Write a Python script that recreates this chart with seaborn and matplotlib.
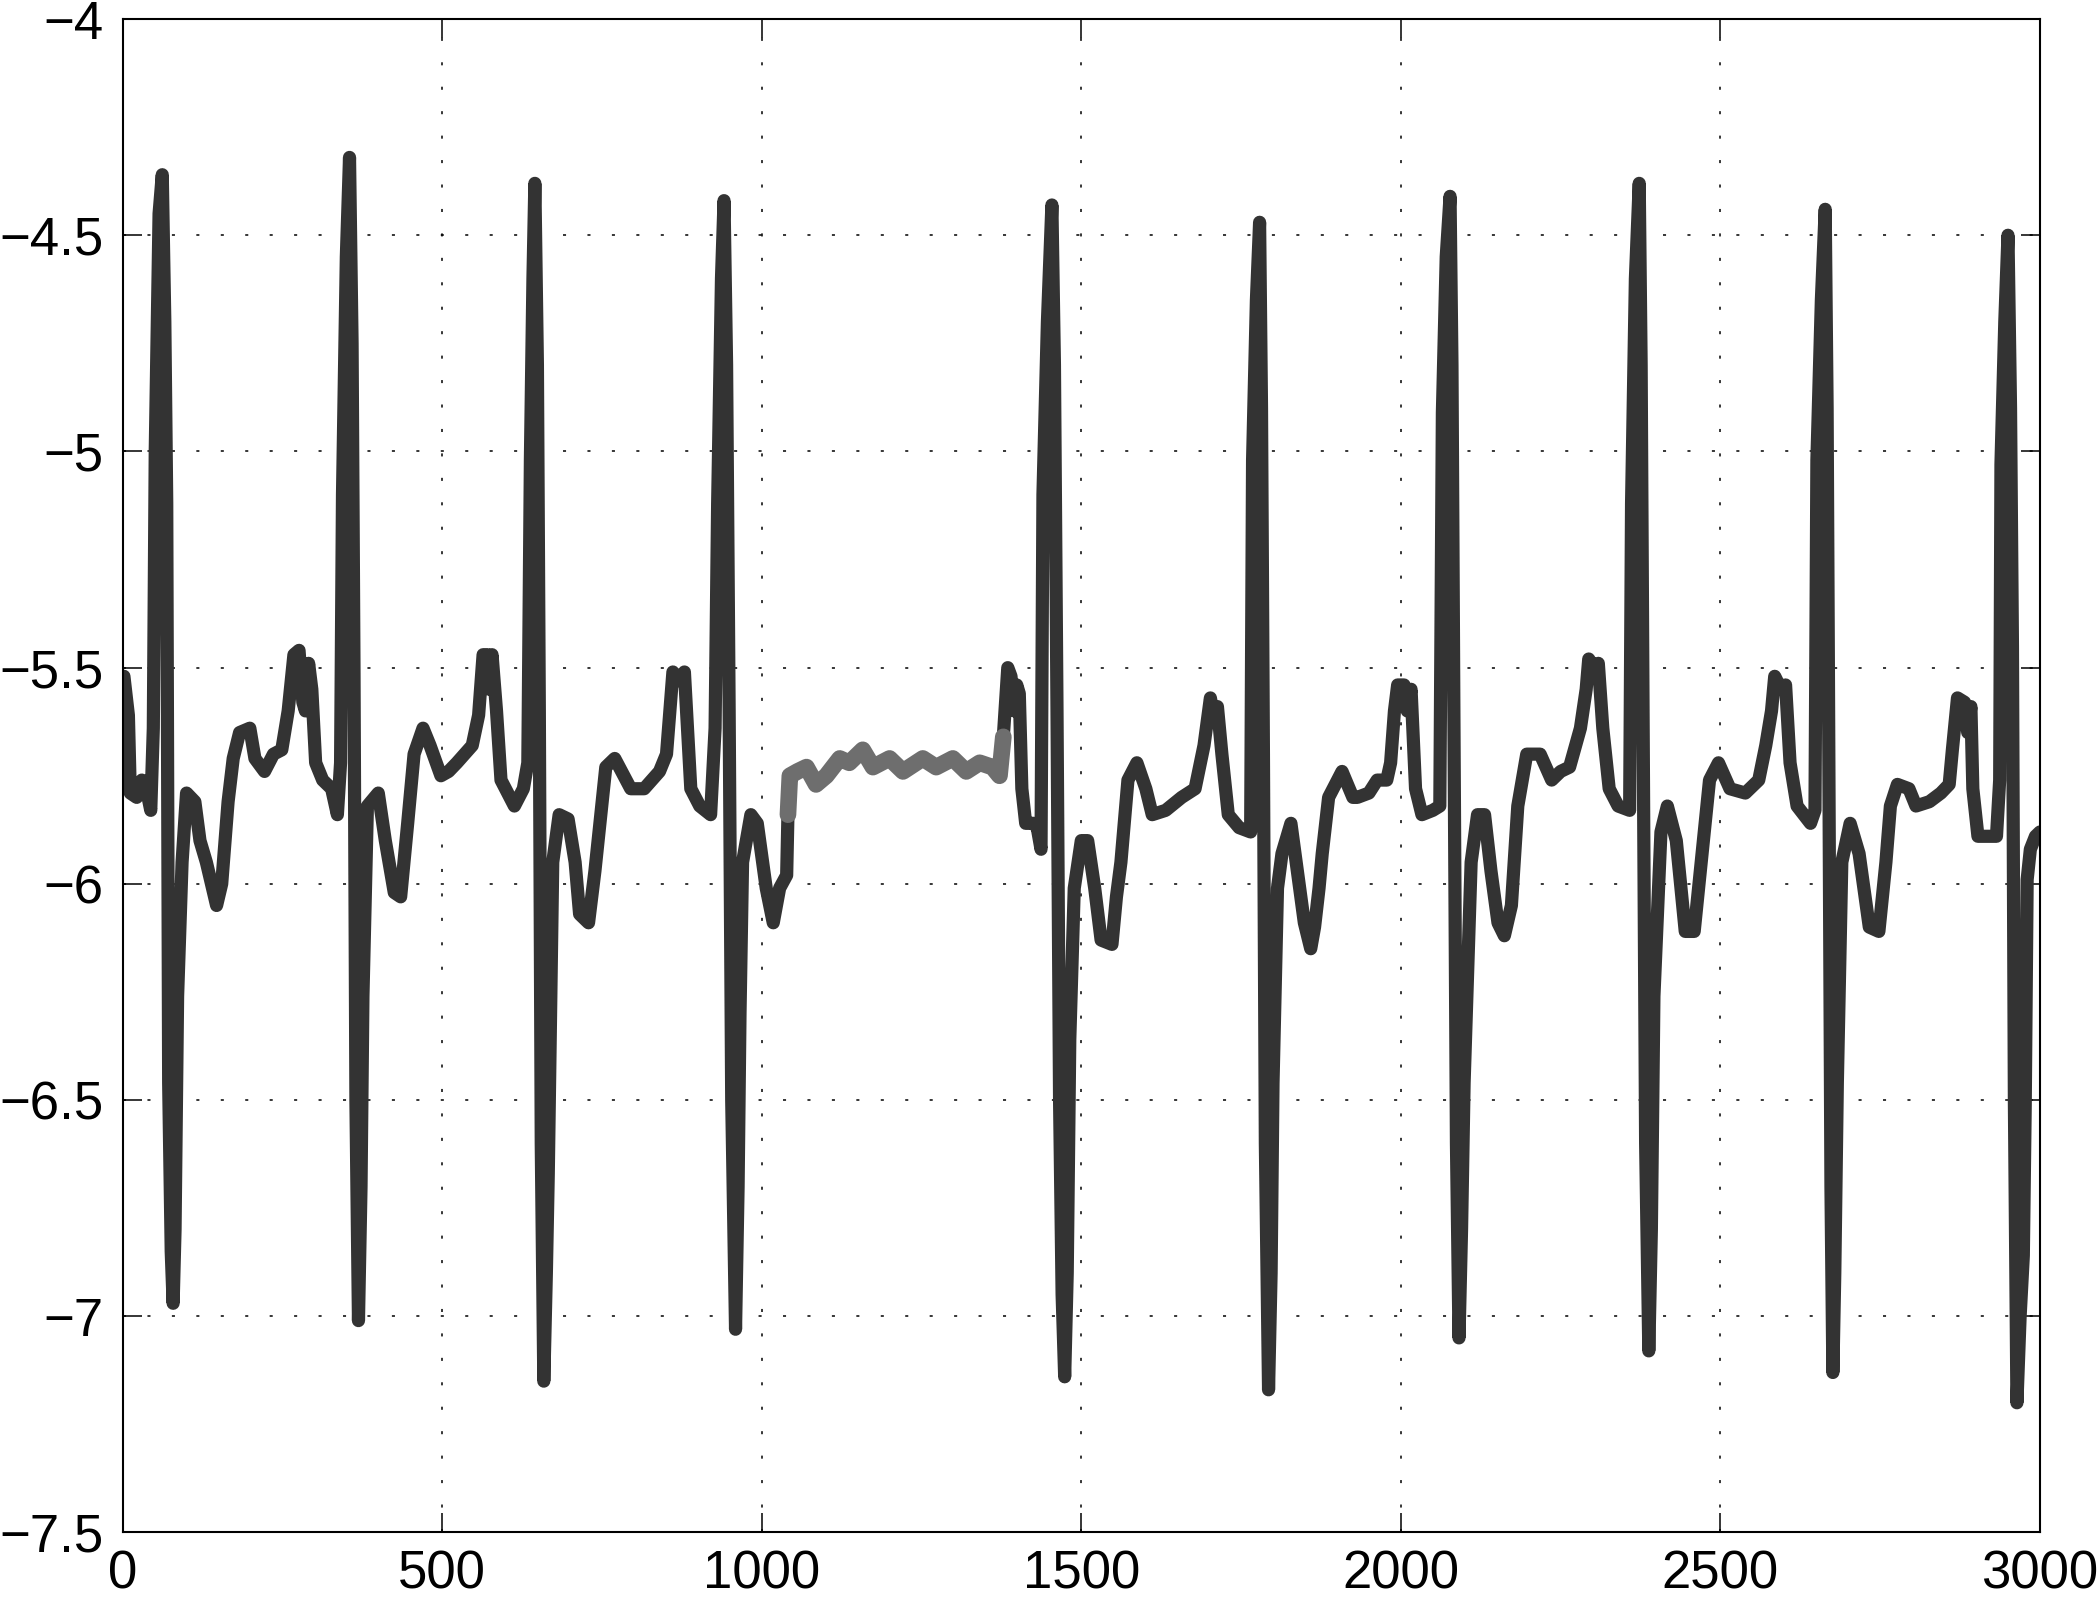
import pandas as pd
import seaborn as sns
import matplotlib.pyplot as plt

# signal before the highlighted stretch (x = sample index, y = amplitude)
pre_x = [2, 9, 12, 22, 30, 37, 44,
         48, 51, 57, 62, 66, 69, 72, 76, 79, 82, 86, 93, 100,
         113, 121, 131, 147, 155, 165, 173, 183, 199, 207, 222, 236, 249, 259, 268,
         276, 282, 286, 291, 296, 302, 313, 327, 336, 341,
         344, 350, 355, 359, 362, 365, 369, 373, 376, 383,
         400, 411, 425, 435, 446, 456, 470, 481, 498, 510, 523, 547, 557, 564, 571,
         574, 578, 585, 592, 606, 613, 627, 634,
         638, 642, 645, 649, 652, 655, 659, 663, 666, 673,
         683, 697, 708, 715, 729, 739, 756, 770, 795, 816, 840, 851, 861, 870, 879,
         889, 903, 920, 927,
         931, 937, 941, 945, 949, 953, 959, 963, 966, 970,
         983, 993, 1007, 1018, 1028, 1039, 1041]
pre_y = [-5.52, -5.61, -5.79, -5.80, -5.76, -5.78, -5.83,
         -5.64, -5.00, -4.45, -4.36, -4.70, -5.12, -6.46, -6.85, -6.97, -6.80, -6.26, -5.95, -5.79,
         -5.81, -5.90, -5.95, -6.05, -6.00, -5.81, -5.71, -5.65, -5.64, -5.71, -5.74, -5.70, -5.69, -5.60, -5.47,
         -5.46, -5.58, -5.60, -5.49, -5.55, -5.72, -5.76, -5.78, -5.84, -5.72,
         -5.10, -4.55, -4.32, -4.75, -5.50, -6.50, -7.01, -6.70, -6.26, -5.82,
         -5.79, -5.90, -6.02, -6.03, -5.86, -5.70, -5.64, -5.68, -5.75, -5.74, -5.72, -5.68, -5.61, -5.47, -5.47,
         -5.55, -5.47, -5.60, -5.76, -5.80, -5.82, -5.78, -5.72,
         -5.02, -4.60, -4.38, -4.80, -5.60, -6.60, -7.15, -6.90, -6.67, -5.95,
         -5.84, -5.85, -5.95, -6.07, -6.09, -5.97, -5.73, -5.71, -5.78, -5.78, -5.74, -5.70, -5.51, -5.53, -5.51,
         -5.78, -5.82, -5.84, -5.64,
         -5.12, -4.60, -4.42, -4.80, -5.60, -6.50, -7.03, -6.70, -6.30, -5.95,
         -5.84, -5.86, -6.01, -6.09, -6.01, -5.98, -5.84]

# highlighted (lighter) stretch
seg_x = [1041, 1044, 1056, 1070, 1085, 1101, 1122, 1137, 1158, 1174, 1200, 1221, 1252,
         1273, 1299, 1320, 1341, 1361, 1372, 1378]
seg_y = [-5.84, -5.75, -5.74, -5.73, -5.77, -5.75, -5.71, -5.72, -5.69, -5.73, -5.71, -5.74, -5.71,
         -5.73, -5.71, -5.74, -5.72, -5.73, -5.75, -5.66]

# signal after the highlighted stretch
post_x = [1385, 1390, 1395, 1399, 1403, 1407, 1413, 1425, 1431, 1437,
          1440, 1447, 1454, 1458, 1462, 1466, 1470, 1474, 1478, 1482, 1489,
          1500, 1510, 1521, 1531, 1548, 1555, 1562, 1573, 1587, 1601, 1611, 1632, 1657, 1678,
          1692, 1702, 1708, 1713, 1720, 1730, 1747, 1765,
          1768, 1774, 1779, 1782, 1785, 1788, 1793, 1797, 1800, 1807,
          1814, 1828, 1838, 1849, 1859, 1865, 1872, 1877, 1887, 1908, 1925, 1932, 1950, 1963,
          1978, 1984, 1990, 1995, 2005, 2010, 2016, 2023, 2033, 2050, 2061,
          2065, 2071, 2077, 2080, 2083, 2087, 2091, 2095, 2099, 2110,
          2120, 2131, 2141, 2152, 2162, 2173, 2183, 2197, 2218, 2236, 2250, 2264, 2281, 2290,
          2294, 2302, 2309, 2316, 2326, 2340, 2358,
          2361, 2367, 2373, 2376, 2379, 2383, 2388, 2392, 2396, 2407,
          2417, 2431, 2445, 2459, 2470, 2483, 2497, 2515, 2539, 2560, 2571, 2580, 2585, 2595,
          2602, 2609, 2620, 2641, 2648,
          2651, 2658, 2664, 2667, 2670, 2673, 2676, 2679, 2683, 2690,
          2703, 2717, 2733, 2748, 2759, 2766, 2777, 2795, 2806, 2827, 2845, 2858, 2863, 2871,
          2882, 2887, 2892, 2895, 2903, 2932, 2937,
          2939, 2945, 2950, 2954, 2957, 2960, 2964, 2969, 2974, 2977, 2980, 2985, 2993, 3000]
post_y = [-5.50, -5.52, -5.60, -5.54, -5.56, -5.78, -5.86, -5.86, -5.87, -5.92,
          -5.10, -4.70, -4.43, -4.80, -5.60, -6.50, -6.95, -7.14, -6.90, -6.36, -6.01,
          -5.90, -5.90, -6.01, -6.13, -6.14, -6.03, -5.95, -5.76, -5.72, -5.78, -5.84, -5.83, -5.80, -5.78,
          -5.68, -5.57, -5.62, -5.59, -5.70, -5.84, -5.87, -5.88,
          -5.02, -4.65, -4.47, -4.90, -5.70, -6.60, -7.17, -6.90, -6.46, -6.01,
          -5.93, -5.86, -5.97, -6.09, -6.15, -6.10, -6.01, -5.93, -5.80, -5.74, -5.80, -5.80, -5.79, -5.76,
          -5.76, -5.72, -5.60, -5.54, -5.54, -5.60, -5.55, -5.78, -5.84, -5.83, -5.82,
          -4.91, -4.55, -4.41, -4.80, -5.60, -6.60, -7.05, -6.80, -6.46, -5.95,
          -5.84, -5.84, -5.97, -6.09, -6.12, -6.05, -5.82, -5.70, -5.70, -5.76, -5.74, -5.73, -5.64, -5.55,
          -5.48, -5.50, -5.49, -5.64, -5.78, -5.82, -5.83,
          -5.12, -4.60, -4.38, -4.80, -5.60, -6.60, -7.08, -6.80, -6.26, -5.88,
          -5.82, -5.90, -6.11, -6.11, -5.95, -5.76, -5.72, -5.78, -5.79, -5.76, -5.68, -5.60, -5.52, -5.55,
          -5.54, -5.72, -5.82, -5.86, -5.83,
          -5.02, -4.65, -4.44, -4.90, -5.80, -6.70, -7.13, -6.90, -6.46, -5.95,
          -5.86, -5.93, -6.10, -6.11, -5.95, -5.82, -5.77, -5.78, -5.82, -5.81, -5.79, -5.77, -5.69, -5.57,
          -5.58, -5.65, -5.59, -5.78, -5.89, -5.89, -5.76,
          -5.03, -4.70, -4.50, -4.90, -5.45, -6.50, -7.20, -7.00, -6.86, -6.51, -5.99, -5.92, -5.89, -5.88]

xticks = [0, 500, 1000, 1500, 2000, 2500, 3000]
xtick_labels = ['0', '500', '1000', '1500', '2000', '2500', '3000']
yticks = [-7.5, -7, -6.5, -6, -5.5, -5, -4.5, -4]
ytick_labels = ['\u22127.5', '\u22127', '\u22126.5', '\u22126', '\u22125.5', '\u22125', '\u22124.5', '\u22124']

sns.set_style('ticks')
plt.rcParams['font.family'] = ['Liberation Sans', 'DejaVu Sans']

dark = pd.DataFrame({'x': pre_x + seg_x + post_x, 'y': pre_y + seg_y + post_y})
light = pd.DataFrame({'x': seg_x, 'y': seg_y})

fig = plt.figure(figsize=(21, 16), dpi=100)
ax = fig.add_axes([0.0584, 0.0422, 0.913, 0.9459])

sns.lineplot(data=dark, x='x', y='y', estimator=None, sort=False,
             color='#333333', linewidth=9.5, ax=ax)
sns.lineplot(data=light, x='x', y='y', estimator=None, sort=False,
             color='#6e6e6e', linewidth=12, ax=ax)
for ln in ax.lines:
    ln.set_solid_capstyle('round')
    ln.set_solid_joinstyle('round')

ax.set_xlim(0, 3000)
ax.set_ylim(-7.5, -4)
ax.set_xticks(xticks)
ax.set_xticklabels(xtick_labels)
ax.set_yticks(yticks)
ax.set_yticklabels(ytick_labels)
ax.set_xlabel('')
ax.set_ylabel('')

ax.tick_params(direction='in', length=13.7, width=1.1, top=True, right=True,
               labelsize=38, colors='black')
ax.tick_params(axis='x', pad=12)
ax.tick_params(axis='y', pad=14)
ax.grid(True, color='black', linestyle=(0, (2, 14)), linewidth=1.1)
ax.set_axisbelow(True)
for sp in ax.spines.values():
    sp.set_visible(True)
    sp.set_linewidth(1.5)
    sp.set_color('black')

fig.savefig('out.png', dpi=100)
